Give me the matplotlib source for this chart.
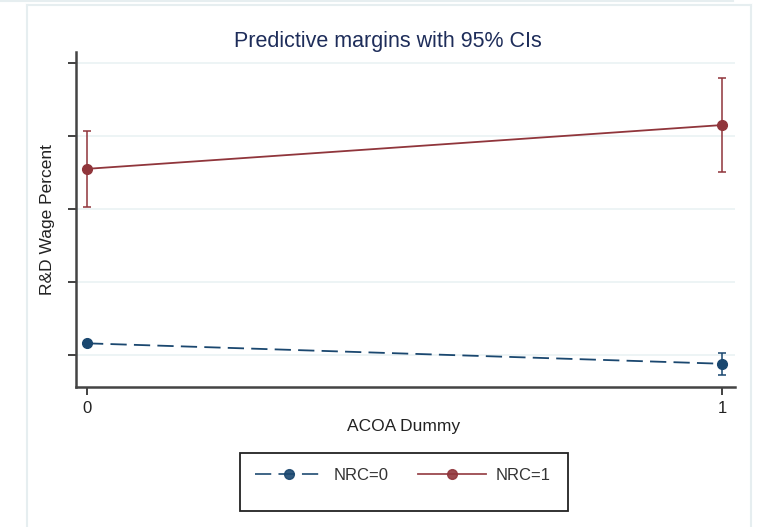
import matplotlib
matplotlib.use("Agg")
import matplotlib.pyplot as plt
from matplotlib.patches import Rectangle
from matplotlib.lines import Line2D

# Data (arbitrary y units; y tick labels are not shown in the reference)
acoa = [0, 1]
labels = ["NRC=0", "NRC=1"]
nrc0_margin = [0.16, -0.12]
nrc0_lo = [0.15, -0.27]
nrc0_hi = [0.17, 0.03]
nrc1_margin = [2.55, 3.15]
nrc1_lo = [2.03, 2.51]
nrc1_hi = [3.07, 3.79]
yticks = [0, 1, 2, 3, 4]
xticks = [0, 1]

navy = "#1a476f"
maroon = "#90353b"

plt.rcParams['font.family'] = ['Liberation Sans', 'DejaVu Sans']

W, H = 760, 527
fig = plt.figure(figsize=(W / 100, H / 100), dpi=100)
fig.patch.set_facecolor("white")

# faint outer frame lines
fc = "#e6eef0"
fig.add_artist(Line2D([27 / W, 27 / W], [0, 1 - 5 / H], color=fc, lw=1.5, transform=fig.transFigure))
fig.add_artist(Line2D([751 / W, 751 / W], [0, 1 - 5 / H], color=fc, lw=1.5, transform=fig.transFigure))
fig.add_artist(Line2D([27 / W, 751 / W], [1 - 5 / H, 1 - 5 / H], color=fc, lw=1.5, transform=fig.transFigure))
fig.add_artist(Line2D([0, 733 / W], [1 - 1 / H, 1 - 1 / H], color=fc, lw=1.5, transform=fig.transFigure))

left, right, bottom, top = 76, 735, 387, 52
ax = fig.add_axes([left / W, 1 - bottom / H, (right - left) / W, (bottom - top) / H])

# y scale: tick 0 at pixel 355, spacing 73 px
ppu = 73.0
ax.set_ylim(-(bottom - 355) / ppu, (355 - top) / ppu)
xppu = 722 - 87
ax.set_xlim(-(87 - left) / xppu, 1 + (right - 722) / xppu)

for yv in yticks:
    ax.axhline(yv, color="#eaf2f3", lw=1.2, zorder=0)

# error bars
ax.errorbar(acoa, nrc0_margin,
            yerr=[[m - l for m, l in zip(nrc0_margin, nrc0_lo)], [h - m for m, h in zip(nrc0_margin, nrc0_hi)]],
            fmt="none", ecolor=navy, elinewidth=1.3, capsize=3, capthick=1.3, alpha=0.85, zorder=2)
ax.errorbar(acoa, nrc1_margin,
            yerr=[[m - l for m, l in zip(nrc1_margin, nrc1_lo)], [h - m for m, h in zip(nrc1_margin, nrc1_hi)]],
            fmt="none", ecolor=maroon, elinewidth=1.3, capsize=3, capthick=1.3, alpha=0.85, zorder=2)

l0, = ax.plot(acoa, nrc0_margin, color=navy, lw=1.3, dashes=(9, 4), marker="o", markersize=7, zorder=3, label=labels[0])
l1, = ax.plot(acoa, nrc1_margin, color=maroon, lw=1.3, marker="o", markersize=7, zorder=3, label=labels[1])

ax.set_xticks(xticks)
ax.set_xticklabels([str(v) for v in xticks], fontsize=12, color="#222222")
ax.set_yticks(yticks)
ax.set_yticklabels([])
ax.tick_params(axis="both", direction="out", length=6, width=1.3, color="#333333")
ax.tick_params(axis="x", pad=4)
for s in ["top", "right"]:
    ax.spines[s].set_visible(False)
for s in ["left", "bottom"]:
    ax.spines[s].set_color("#444444")
    ax.spines[s].set_linewidth(1.8)
ax.set_facecolor("white")

fig.text(404 / W, 1 - 426 / H, "ACOA Dummy", ha="center", va="center", fontsize=12.5, color="#222222")
fig.text(48 / W, 1 - 220 / H, "R&D Wage Percent", ha="center", va="center", rotation=90,
         fontsize=12.5, color="#222222")

fig.text(388 / W, 1 - 42 / H, "Predictive margins with 95% CIs", ha="center", va="center",
         fontsize=15.5, color="#1e2d5a")

# legend frame
fig.add_artist(Rectangle((240 / W, 1 - 511 / H), (568 - 240) / W, (511 - 453) / H,
                         transform=fig.transFigure, fill=False, edgecolor="#222222", lw=1.3))
leg = fig.legend(handles=[l0, l1], labels=labels, loc="center",
                 bbox_to_anchor=(403 / W, 1 - 475 / H), ncol=2, frameon=False,
                 fontsize=12, handlelength=4.1, columnspacing=1.75, handletextpad=0.6)
for t in leg.get_texts():
    t.set_color("#333333")
for h in leg.legend_handles:
    h.set_alpha(0.9)

fig.savefig("out.png", dpi=100)
